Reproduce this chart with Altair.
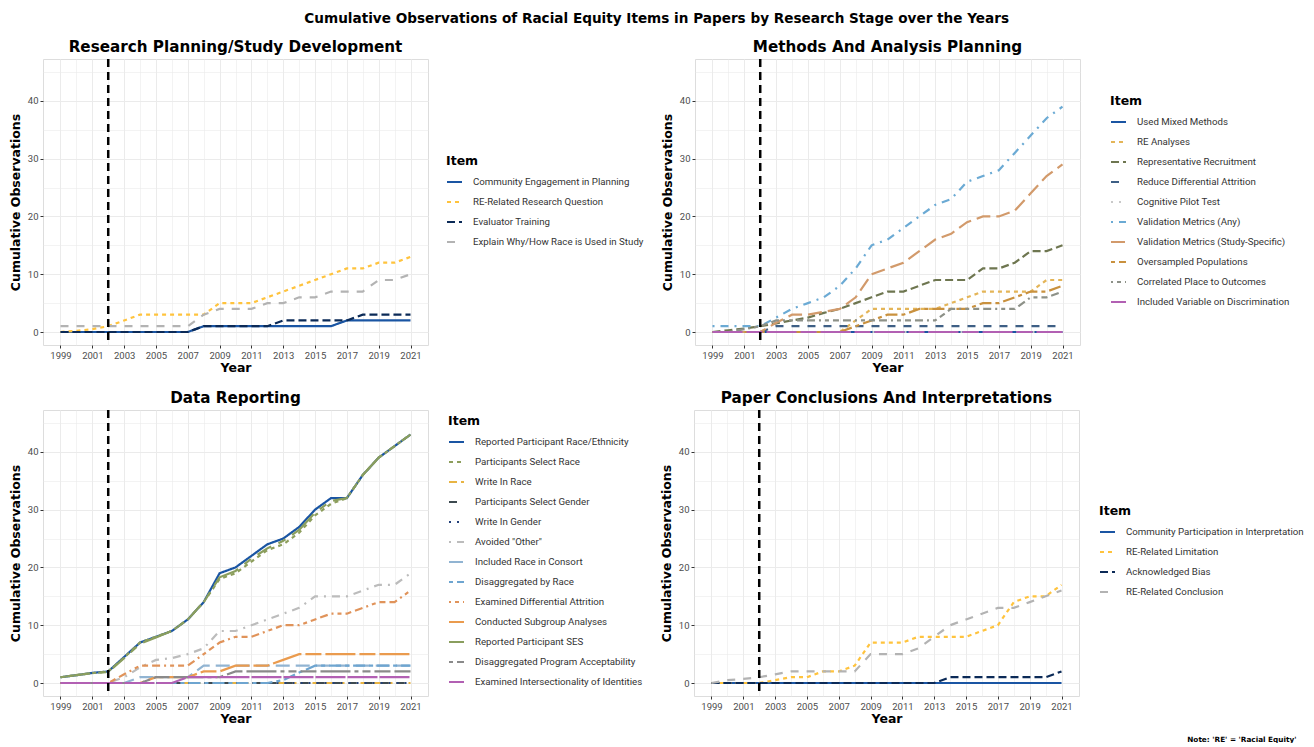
import altair as alt
import pandas as pd

years = list(range(1999, 2022))

# ---------------- Panel 1: Research Planning/Study Development
p1_items = ["Community Engagement in Planning", "RE-Related Research Question",
            "Evaluator Training", "Explain Why/How Race is Used in Study"]
p1_community = [0, 0, 0, 0, 0, 0, 0, 0, 0, 1, 1, 1, 1, 1, 1, 1, 1, 1, 2, 2, 2, 2, 2]
p1_question = [0, 0.2, 0.5, 1, 2, 3, 3, 3, 3, 3, 5, 5, 5, 6, 7, 8, 9, 10, 11, 11, 12, 12, 13]
p1_evaluator = [0, 0, 0, 0, 0, 0, 0, 0, 0, 1, 1, 1, 1, 1, 2, 2, 2, 2, 2, 3, 3, 3, 3]
p1_explain = [1, 1, 1, 1, 1, 1, 1, 1, 1, 3, 4, 4, 4, 5, 5, 6, 6, 7, 7, 7, 9, 9, 10]
p1_series = [p1_community, p1_question, p1_evaluator, p1_explain]
p1_colors = ["#1a55a3", "#FFC33D", "#0B2A57", "#B3B3B3"]
p1_types = ["solid", "22", "42", "44"]

# ---------------- Panel 2: Methods And Analysis Planning
p2_items = ["Used Mixed Methods", "RE Analyses", "Representative Recruitment",
            "Reduce Differential Attrition", "Cognitive Pilot Test", "Validation Metrics (Any)",
            "Validation Metrics (Study-Specific)", "Oversampled Populations",
            "Correlated Place to Outcomes", "Included Variable on Discrimination"]
p2_mixed = [0] * 23
p2_re_analyses = [0, 0, 0, 0, 0, 0, 0, 0, 0, 2, 4, 4, 4, 4, 4, 5, 6, 7, 7, 7, 7, 9, 9]
p2_representative = [0, 0.3, 0.6, 1, 1.5, 2, 2.5, 3.3, 4, 5, 6, 7, 7, 8, 9, 9, 9, 11, 11, 12, 14, 14, 15]
p2_attrition = [0, 0, 0, 0, 1, 1, 1, 1, 1, 1, 1, 1, 1, 1, 1, 1, 1, 1, 1, 1, 1, 1, 1]
p2_cognitive = [0] * 23
p2_val_any = [1, 1, 1, 1, 2.5, 4, 5, 6, 8, 11, 15, 16, 18, 20, 22, 23, 26, 27, 28, 31, 34, 37, 39]
p2_val_study = [0, 0, 0, 0, 1.6, 3, 3, 3.5, 4, 6, 10, 11, 12, 14, 16, 17, 19, 20, 20, 21, 24, 27, 29]
p2_oversampled = [0, 0, 0, 0, 0, 0, 0, 0, 0, 1, 2, 3, 3, 4, 4, 4, 4, 5, 5, 6, 7, 7, 8]
p2_correlated = [0, 0, 0.5, 1, 2, 2, 2, 2, 2, 2, 2, 2, 2, 2, 2, 4, 4, 4, 4, 4, 6, 6, 7]
p2_discrimination = [0] * 23
p2_series = [p2_mixed, p2_re_analyses, p2_representative, p2_attrition, p2_cognitive,
             p2_val_any, p2_val_study, p2_oversampled, p2_correlated, p2_discrimination]
p2_colors = ["#1a55a3", "#E4B558", "#6E7650", "#3E5F85", "#C9C9C9",
             "#6BAAD4", "#D29A6B", "#C9913E", "#8D9188", "#B260B3"]
p2_types = ["solid", "22", "42", "44", "13", "1343", "73", "2262", "12223242", "F282"]

# ---------------- Panel 3: Data Reporting
p3_items = ["Reported Participant Race/Ethnicity", "Participants Select Race", "Write In Race",
            "Participants Select Gender", "Write In Gender", "Avoided \"Other\"",
            "Included Race in Consort", "Disaggregated by Race", "Examined Differential Attrition",
            "Conducted Subgroup Analyses", "Reported Participant SES",
            "Disaggregated Program Acceptability", "Examined Intersectionality of Identities"]
p3_race = [1, 1.35, 1.75, 2, 4.5, 7, 8, 9, 11, 14, 19, 20, 22, 24, 25, 27, 30, 32, 32, 36, 39, 41, 43]
p3_select_race = [1, 1.35, 1.7, 2, 4.4, 7, 8, 9, 11, 14, 18, 19, 21, 23, 24, 26, 29, 31, 32, 36, 39, 41, 43]
p3_write_race = [0] * 23
p3_select_gender = [0] * 23
p3_write_gender = [0] * 23
p3_avoided = [0, 0, 0, 0, 1, 2.7, 4, 4.3, 5, 6, 9, 9, 10, 11, 12, 13, 15, 15, 15, 16, 17, 17, 19]
p3_consort = [0, 0, 0, 0, 0, 1, 1, 1, 1, 3, 3, 3, 3, 3, 3, 3, 3, 3, 3, 3, 3, 3, 3]
p3_disagg_race = [0, 0, 0, 0, 0, 0, 0, 0, 0, 0, 0, 0, 0, 0, 0.5, 1.8, 3, 3, 3, 3, 3, 3, 3]
p3_exam_attrition = [0, 0, 0, 0, 1.5, 3, 3, 3, 3, 5, 7, 8, 8, 9, 10, 10, 11, 12, 12, 13, 14, 14, 16]
p3_subgroup = [0, 0, 0, 0, 0, 0, 1, 1, 1, 2, 2, 3, 3, 3, 4, 5, 5, 5, 5, 5, 5, 5, 5]
p3_ses = [1, 1.35, 1.7, 1.9, 4.3, 6.8, 7.9, 9, 11, 14, 18.3, 19.4, 21.5, 23.3, 24.6, 26.5,
          29.5, 31.5, 32, 36, 39, 41, 43]
p3_program = [0, 0, 0, 0, 0, 0, 1, 1, 1, 1, 1, 2, 2, 2, 2, 2, 2, 2, 2, 2, 2, 2, 2]
p3_intersection = [0, 0, 0, 0, 0, 0, 0, 0, 1, 1, 1, 1, 1, 1, 1, 1, 1, 1, 1, 1, 1, 1, 1]
p3_series = [p3_race, p3_select_race, p3_write_race, p3_select_gender, p3_write_gender,
             p3_avoided, p3_consort, p3_disagg_race, p3_exam_attrition, p3_subgroup,
             p3_ses, p3_program, p3_intersection]
p3_colors = ["#1a55a3", "#8D9E5C", "#E8B443", "#3D4A50", "#22407A", "#BCBCBC", "#91B4D2",
             "#6EA5D0", "#E0935A", "#EA9B4E", "#8A9E5E", "#8A8A8A", "#B260B3"]
p3_types = ["solid", "22", "42", "44", "13", "1343", "73", "2262", "12223242", "F282",
            "F4448444", "224282F2", "F1"]

# ---------------- Panel 4: Paper Conclusions And Interpretations
p4_items = ["Community Participation in Interpretation", "RE-Related Limitation",
            "Acknowledged Bias", "RE-Related Conclusion"]
p4_community = [0] * 23
p4_limitation = [0, 0, 0, 0, 0.5, 1, 1, 2, 2, 3, 7, 7, 7, 8, 8, 8, 8, 9, 10, 14, 15, 15, 17]
p4_bias = [0, 0, 0, 0, 0, 0, 0, 0, 0, 0, 0, 0, 0, 0, 0, 1, 1, 1, 1, 1, 1, 1, 2]
p4_conclusion = [0, 0.5, 0.7, 1, 1.5, 2, 2, 2, 2, 2, 5, 5, 5, 6, 8, 10, 11, 12, 13, 13, 14, 15, 16]
p4_series = [p4_community, p4_limitation, p4_bias, p4_conclusion]
p4_colors = ["#1a55a3", "#FFC33D", "#0B2A57", "#B3B3B3"]
p4_types = ["solid", "22", "42", "44"]

cutoff_year = [2002]
main_title = "Cumulative Observations of Racial Equity Items in Papers by Research Stage over the Years"
note_text = "Note: 'RE' = 'Racial Equity'"

TITLE_FONT = "DejaVu Sans"
TEXT_FONT = "Roboto"
W, H = 385, 286
UNIT = 2.0


def dash_of(code):
    if code == "solid":
        return [1, 0]
    return [int(c, 16) * UNIT for c in code]


x_axis = alt.Axis(
    values=years, format="d",
    labelExpr="datum.value % 2 == 1 ? datum.label : ''",
    labelOverlap=False, labelFlush=False,
    tickOpacity={"condition": {"test": "datum.value % 2 == 0", "value": 0}, "value": 1},
    gridWidth={"condition": {"test": "datum.value % 2 == 0", "value": 0.6}, "value": 1.0},
    gridColor="#EBEBEB", domain=False, tickColor="#333333", tickSize=3,
    labelFont=TEXT_FONT, labelFontSize=9.5, labelColor="#4D4D4D", labelPadding=2,
    titleFont=TITLE_FONT, titleFontSize=12.5, titleFontWeight="bold", titleColor="black",
    titlePadding=2,
)
y_axis = alt.Axis(
    values=list(range(0, 46, 5)), format="d",
    labelExpr="datum.value % 10 == 0 ? datum.label : ''",
    labelOverlap=False, labelFlush=False,
    tickOpacity={"condition": {"test": "datum.value % 10 != 0", "value": 0}, "value": 1},
    gridWidth={"condition": {"test": "datum.value % 10 != 0", "value": 0.6}, "value": 1.0},
    gridColor="#EBEBEB", domain=False, tickColor="#333333", tickSize=3,
    labelFont=TEXT_FONT, labelFontSize=9.5, labelColor="#4D4D4D", labelPadding=2,
    titleFont=TITLE_FONT, titleFontSize=12.5, titleFontWeight="bold", titleColor="black",
    titlePadding=5,
)
x_scale = alt.Scale(domain=[1997.9, 2022.1], nice=False, zero=False)
y_scale = alt.Scale(domain=[-2.25, 47.25], nice=False, zero=False)


def panel(title, items, series, colors, types, lx, ly):
    rows = []
    for order, (it, vals) in enumerate(zip(items, series)):
        for yr, v in zip(years, vals):
            rows.append({"year": yr, "value": v, "item": it, "k": order})
    df = pd.DataFrame(rows)
    leg = alt.Legend(
        title="Item", orient="none", legendX=lx, legendY=ly,
        symbolType="stroke", symbolSize=225, symbolStrokeWidth=2,
        labelFont=TEXT_FONT, labelFontSize=9.7, labelColor="#333333", labelOffset=10,
        titleFont=TITLE_FONT, titleFontSize=12.5, titleFontWeight="bold", titleColor="black",
        titlePadding=6, rowPadding=6, padding=0, labelLimit=400,
    )
    lines = alt.Chart(df).mark_line(strokeWidth=2.2, strokeCap="butt").encode(
        x=alt.X("year:Q", scale=x_scale, axis=x_axis, title="Year"),
        y=alt.Y("value:Q", scale=y_scale, axis=y_axis, title="Cumulative Observations"),
        color=alt.Color("item:N", sort=items,
                        scale=alt.Scale(domain=items, range=colors), legend=leg),
        strokeDash=alt.StrokeDash("item:N", sort=items,
                                  scale=alt.Scale(domain=items, range=[dash_of(t) for t in types]),
                                  legend=leg),
    )
    vline = alt.Chart(pd.DataFrame({"year": cutoff_year})).mark_rule(
        color="black", strokeWidth=2.5, strokeDash=[8, 5]
    ).encode(x=alt.X("year:Q", scale=x_scale, axis=x_axis, title="Year"))
    return alt.layer(lines, vline).properties(
        width=W, height=H,
        title=alt.TitleParams(title, font=TITLE_FONT, fontSize=15.2, fontWeight="bold",
                              color="black", anchor="middle", frame="group", offset=3),
    )


def indep(c):
    return c.resolve_scale(color="independent", strokeDash="independent").resolve_legend(
        color="independent", strokeDash="independent")


c1 = panel("Research Planning/Study Development", p1_items, p1_series, p1_colors, p1_types, 403, 96)
c2 = panel("Methods And Analysis Planning", p2_items, p2_series, p2_colors, p2_types, 415, 36)
c3 = panel("Data Reporting", p3_items, p3_series, p3_colors, p3_types, 405, 5)
c4 = panel("Paper Conclusions And Interpretations", p4_items, p4_series, p4_colors, p4_types, 405, 95)

row1 = indep(alt.hconcat(c1, c2, spacing=15))
row2 = indep(alt.hconcat(c3, c4, spacing=15).properties(
    title=alt.TitleParams(note_text, orient="bottom", anchor="end", font=TITLE_FONT,
                          fontSize=7.3, fontWeight="bold", color="black", offset=10, dx=-8)
))

chart = indep(alt.vconcat(row1, row2, spacing=15)).properties(
    title=alt.TitleParams(main_title, font=TITLE_FONT, fontSize=13.6, fontWeight="bold",
                          color="black", anchor="middle", offset=13),
    padding={"top": 4, "left": 0, "right": 0, "bottom": 0},
).configure_view(stroke="#8C8C8C", strokeWidth=1).configure(background="white")

chart.save("out.html", embed_options={"renderer": "svg", "actions": False})
